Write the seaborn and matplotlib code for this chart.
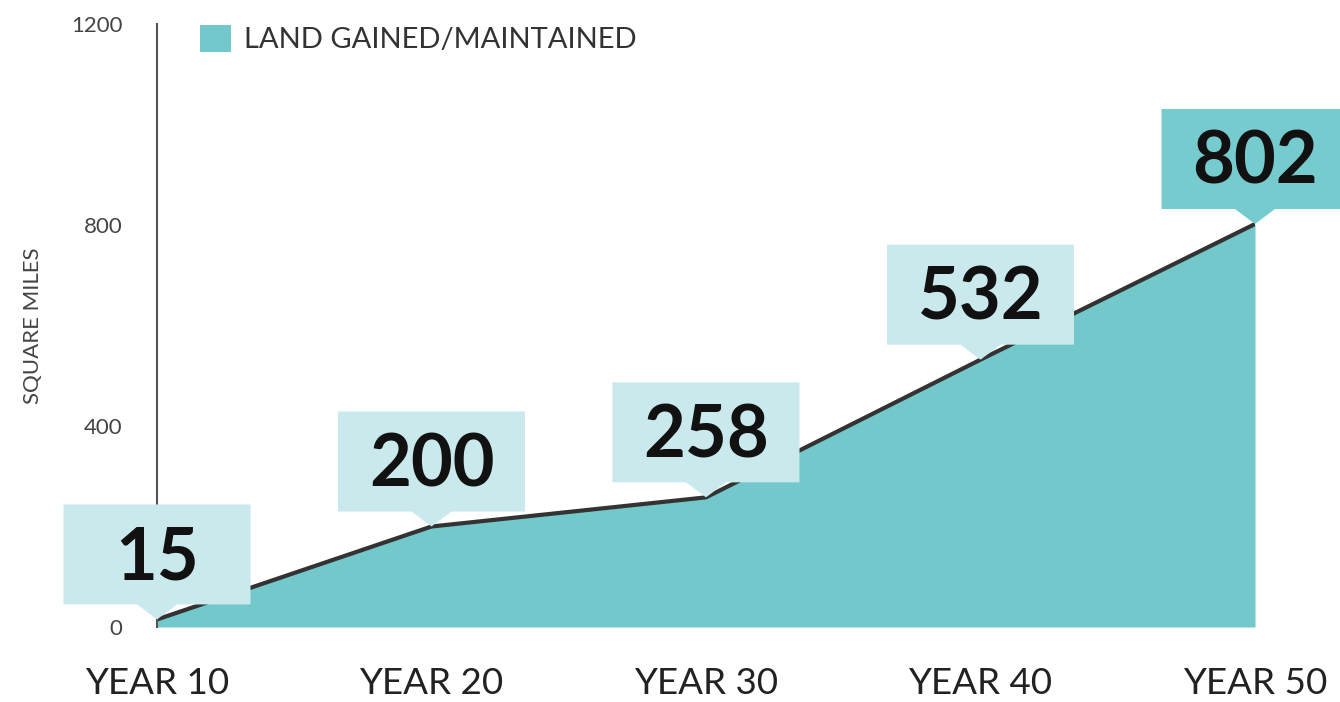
import matplotlib
matplotlib.use("Agg")
import matplotlib.pyplot as plt
import matplotlib.transforms as mtransforms
from matplotlib.patches import Polygon, Patch
import seaborn as sns
import pandas as pd

# ---- data ----
years = ["YEAR 10", "YEAR 20", "YEAR 30", "YEAR 40", "YEAR 50"]
values = [15, 200, 258, 532, 802]
value_labels = ["15", "200", "258", "532", "802"]
y_ticks = [0, 400, 800, 1200]
series_name = "LAND GAINED/MAINTAINED"
y_title = "SQUARE MILES"

# ---- style ----
FILL = "#72c8ca"
LINE = "#333333"
BOX_LIGHT = "#c9e9ec"
BOX_DARK = "#76cbce"

sns.set_theme(style="white")
plt.rcParams['font.family'] = ['Lato', 'DejaVu Sans']

W, H = 1340, 702
fig = plt.figure(figsize=(W / 100, H / 100), dpi=100)
ax = fig.add_axes([157 / W, 75 / H, 1098 / W, 603 / H])

df = pd.DataFrame({"pos": list(range(len(years))), "value": values})
ax.fill_between(df["pos"], df["value"], 0, color=FILL, lw=0, zorder=1)
sns.lineplot(data=df, x="pos", y="value", color=LINE, lw=3, ax=ax, zorder=2)

# callout boxes
w, h, g, pw = 1.87, 1.0, 0.15, 0.2
for i, (v, lab) in enumerate(zip(values, value_labels)):
    tr = fig.dpi_scale_trans + mtransforms.ScaledTranslation(i, v, ax.transData)
    verts = [(-w / 2, g), (-pw, g), (0, 0), (pw, g), (w / 2, g),
             (w / 2, g + h), (-w / 2, g + h)]
    col = BOX_DARK if i == len(values) - 1 else BOX_LIGHT
    poly = Polygon(verts, closed=True, transform=tr, facecolor=col,
                   edgecolor="none", zorder=5, clip_on=False)
    ax.add_patch(poly)
    ax.text(0, g + 0.25, lab, transform=tr, ha="center", va="baseline",
            fontsize=52, fontweight="bold", color="#111111", zorder=6,
            clip_on=False)

ax.set_xlim(0, len(years) - 1)
ax.set_ylim(0, 1200)
ax.set_xticks(range(len(years)))
ax.set_xticklabels(years)
ax.set_yticks(y_ticks)
ax.set_xlabel("")
ax.set_ylabel(y_title, fontsize=16, color="#444444")
ax.yaxis.set_label_coords(-0.104, 0.5)

ax.tick_params(axis="y", length=0, pad=25, labelsize=16, labelcolor="#444444")
ax.tick_params(axis="x", length=0, pad=29, labelsize=26.5, labelcolor="#222222")

for s in ["top", "right", "bottom"]:
    ax.spines[s].set_visible(False)
ax.spines["left"].set_color("#555555")
ax.spines["left"].set_linewidth(1.5)
ax.set_facecolor("white")

ax.legend(handles=[Patch(facecolor=FILL, edgecolor="none", label=series_name)],
          loc="upper left", bbox_to_anchor=(200 / W, 1 - 25 / H),
          bbox_transform=fig.transFigure, frameon=False, fontsize=21,
          handlelength=1.05, handleheight=1.05, handletextpad=0.45,
          borderpad=0, borderaxespad=0, labelcolor="#333333")

fig.savefig("out.png", dpi=100, facecolor="white")
